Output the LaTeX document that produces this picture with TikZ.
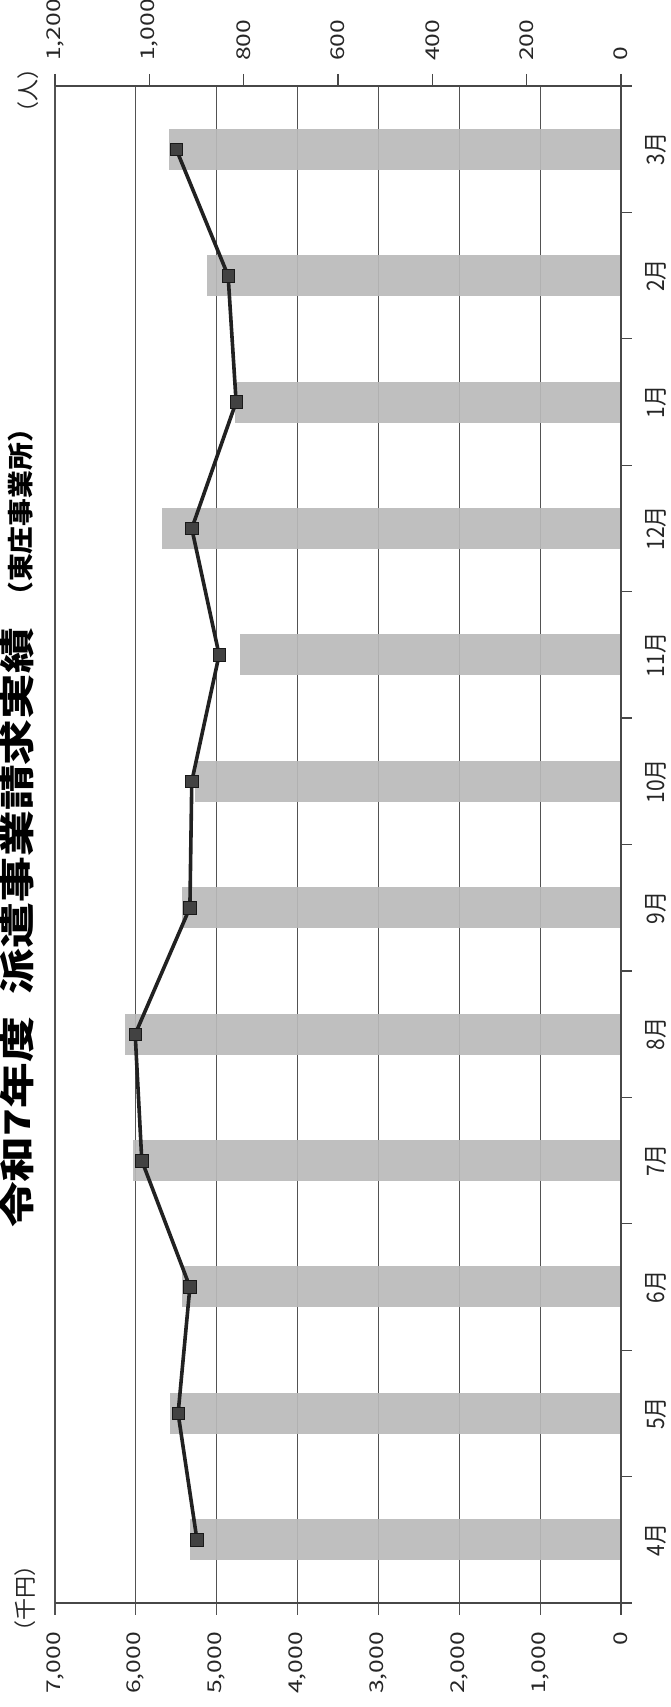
\documentclass[tikz,border=0pt]{standalone}
\usepackage{fontspec}
\setmainfont{Noto Sans CJK JP}
\newfontfamily\jp{Noto Sans CJK JP}
\begin{document}
\begin{tikzpicture}[x=1pt,y=-1pt,
  grid/.style={draw=black!68, line width=1.1pt},
  axisline/.style={draw=black!72, line width=1.2pt},
  bar/.style={fill=black!27, fill opacity=0.92, draw=none},
  ser/.style={draw=black!87, line width=3.6pt, line join=round},
  mk/.style={rectangle, fill=black!74, draw=black!90, line width=0.6pt, minimum size=12.5pt, inner sep=0pt},
  numlab/.style={rotate=90, inner sep=0pt, text=black!85, font=\jp\fontsize{19}{19}\selectfont},
  monlab/.style={rotate=90, inner sep=0pt, text=black!85, font=\jp\fontsize{21}{21}\selectfont},
  unitlab/.style={rotate=90, inner sep=0pt, text=black!85, font=\jp\fontsize{22}{22}\selectfont},
  titlelab/.style={rotate=90, inner sep=0pt, text=black, font=\jp\bfseries\fontsize{44}{44}\selectfont},
  sublab/.style={rotate=90, inner sep=0pt, text=black, font=\jp\bfseries\fontsize{26}{26}\selectfont}
]
\useasboundingbox (0,0) rectangle (671,1707);
\fill[white] (0,0) rectangle (671,1707);
\def\xo{621}\def\yt{86}\def\yb{1603}\def\cp{126.417}
% gridlines (yen axis) with outward ticks at bottom
\foreach \k in {1,...,7}
  \draw[grid] ({\xo-80.857*\k},\yt) -- ({\xo-80.857*\k},{\yb+12});
% bars (thousand yen)
\foreach \v [count=\i from 0] in {5330,5578,5429,6035,6134,5429,5268,4712,5677,4774,5120,5590}
  \fill[bar] ({\xo-0.080857*\v},{\yb-\cp*(\i+0.5)-20.5}) rectangle (\xo,{\yb-\cp*(\i+0.5)+20.5});
% axes
\draw[axisline] (55,\yt) -- (632,\yt);
\draw[axisline] (55,\yb) -- (632,\yb);
\draw[axisline] (\xo,{\yt-12}) -- (\xo,{\yb+12});
% category ticks
\foreach \i in {0,...,12}
  \draw[axisline] (\xo,{\yb-\cp*\i}) -- (632,{\yb-\cp*\i});
% people ticks on top axis
\foreach \j in {1,...,6}
  \draw[axisline] ({\xo-94.333*\j},{\yt-12}) -- ({\xo-94.333*\j},\yt);
% series (persons)
\foreach \p [count=\i from 0] in {899,939,914,1016,1030,914,910,852,910,816,833,943}
  \coordinate (p\i) at ({\xo-0.47167*\p},{\yb-\cp*(\i+0.5)});
\draw[ser] (p0) -- (p1) -- (p2) -- (p3) -- (p4) -- (p5) -- (p6) -- (p7) -- (p8) -- (p9) -- (p10) -- (p11);
\foreach \i in {0,...,11}
  \node[mk] (m\i) at (p\i) {};
% bottom labels (thousand yen)
\foreach \t [count=\k from 0] in {0,{1,000},{2,000},{3,000},{4,000},{5,000},{6,000},{7,000}}
  \node[numlab, anchor=east] (yl\k) at ({\xo-80.857*\k},1632) {\scalebox{1.3}[1]{\t}};
% top labels (persons)
\foreach \t [count=\k from 0] in {0,200,400,600,800,{1,000},{1,200}}
  \node[numlab, anchor=west] (pl\k) at ({\xo-94.333*\k},61) {\scalebox{1.3}[1]{\t}};
% month labels
\foreach \m [count=\i from 0] in {4月,5月,6月,7月,8月,9月,10月,11月,12月,1月,2月,3月}
  \node[monlab] (ml\i) at (656,{\yb-\cp*(\i+0.5)}) {\scalebox{1}[1.15]{\m}};
% unit labels
\node[unitlab] (uyen) at (25,1598) {（千円）};
\node[unitlab] (uppl) at (28,91) {（人）};
% title
\node[titlelab, anchor=base west] (title) at (30.5,1228) {\scalebox{1.04}[0.8]{令和7年度\hspace{0.5em}派遣事業請求実績}};
\node[sublab, anchor=base west] (subtitle) at (30.5,610) {\scalebox{1.07}[1]{（東庄事業所）}};
\end{tikzpicture}
\end{document}
